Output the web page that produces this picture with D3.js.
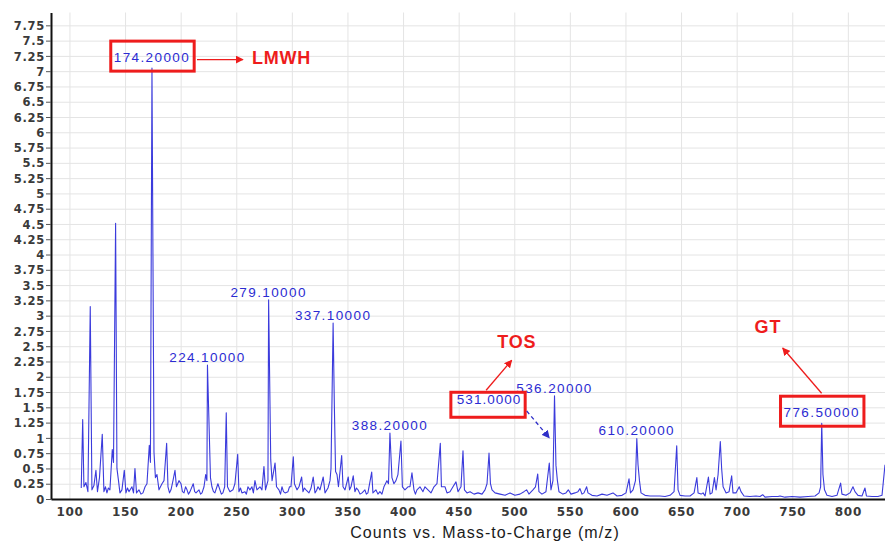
<!DOCTYPE html>
<html lang="en">
<head>
<meta charset="utf-8">
<style>
  body { margin: 0; background: #fff; }
  svg text { font-family: "Liberation Sans", Arial, sans-serif; }
  .tick text { font-family: "DejaVu Sans", sans-serif; font-weight: bold; font-size: 11.5px; fill: #3a3a3a; letter-spacing: 0.7px; }
</style>
</head>
<body>
<div id="chart"></div>
<script src="https://cdnjs.cloudflare.com/ajax/libs/d3/7.8.5/d3.min.js"></script>
<script>
var WIDTH = 885, HEIGHT = 545;

// spectrum: [m/z, counts]
var spectrum = [
  [110.6,0.18],[111.9,1.30],[113.0,0.2],[114.8,0.27],[116.6,0.12],[118.7,3.15],[120.2,0.15],[122.0,0.22],[123.8,0.47],[125.2,0.12],
  [127.0,0.35],[129.5,1.06],[131.0,0.12],[132.4,0.2],[133.7,0.1],[135.0,0.18],[136.4,0.15],[138.5,0.81],[139.6,0.6],[141.5,4.51],[142.7,0.5],[144.1,0.3],
  [145.4,0.1],[147.2,0.15],[149.3,0.47],[150.8,0.1],[152.2,0.18],[153.5,0.12],[156.2,0.2],[157.6,0.1],[158.9,0.5],[160.3,0.1],[162.5,0.15],[164.3,0.08],[166.1,0.1],[168.0,0.2],
  [169.7,0.25],[171.8,0.88],[172.8,0.6],[174.2,7.05],[176.0,0.77],[177.3,0.35],[178.7,0.4],[180.5,0.15],[183.2,0.25],[185.0,0.3],
  [187.4,0.91],[188.6,0.2],[190.0,0.1],[191.3,0.15],[193.1,0.3],[194.9,0.47],[196.2,0.2],[198.5,0.3],[200.3,0.25],[201.6,0.12],[203.0,0.1],[204.4,0.2],[205.7,0.15],
  [207.0,0.08],[208.4,0.12],[211.3,0.25],[212.6,0.12],[213.8,0.1],[216.5,0.15],[217.9,0.08],[219.2,0.1],[221.0,0.2],[222.5,0.4],[223.6,0.3],[224.1,2.19],[225.7,1.1],[226.8,0.35],
  [228.1,0.2],[229.5,0.12],[230.8,0.1],[233.5,0.25],[235.3,0.15],[236.6,0.08],[238.0,0.1],[239.6,0.2],[241.0,1.41],[242.1,0.2],[244.3,0.12],[247.0,0.15],[248.8,0.25],
  [251.3,0.73],[252.4,0.12],[253.8,0.18],[255.1,0.1],[257.8,0.12],[259.1,0.08],[260.5,0.2],[262.3,0.15],[264.1,0.2],[265.4,0.1],[266.8,0.3],[268.6,0.15],[271.3,0.2],
  [273.1,0.15],[274.9,0.53],[276.3,0.15],[278.5,0.3],[279.1,3.26],[281.0,0.64],[282.2,0.3],[284.9,0.59],[286.2,0.2],[288.4,0.15],
  [289.8,0.08],[291.1,0.2],[292.5,0.12],[293.9,0.1],[296.5,0.12],[297.9,0.2],[299.2,0.2],[301.3,0.69],[302.3,0.25],[304.6,0.15],[306.4,0.2],[308.8,0.36],[310.0,0.12],
  [311.3,0.18],[312.7,0.15],[315.4,0.1],[317.3,0.18],[319.2,0.36],[320.8,0.1],[322.2,0.14],[323.5,0.2],[325.3,0.15],[328.2,0.36],[329.8,0.1],[332.5,0.18],[334.3,0.3],
  [335.2,0.5],[337.1,2.88],[338.2,1.54],[339.3,0.45],[340.6,0.4],[341.9,0.2],[344.8,0.71],[346.0,0.2],[347.8,0.15],[350.7,0.36],
  [351.9,0.15],[353.2,0.2],[355.2,0.38],[356.7,0.12],[358.1,0.18],[359.5,0.15],[361.3,0.08],[363.1,0.1],[365.7,0.15],[367.0,0.08],[368.4,0.1],[371.8,0.44],[372.9,0.1],
  [375.6,0.15],[377.4,0.08],[379.2,0.12],[381.0,0.08],[382.8,0.2],[385.5,0.3],[386.9,0.25],[388.2,1.08],[390.0,0.35],[391.8,0.25],[393.6,0.3],[395.4,0.4],
  [398.1,0.95],[399.4,0.2],[401.7,0.15],[404.4,0.2],[406.2,0.2],[408.0,0.43],[409.8,0.15],[411.1,0.08],[412.5,0.15],[415.2,0.2],[417.9,0.12],
  [419.7,0.2],[422.4,0.15],[425.1,0.1],[427.8,0.2],[430.5,0.25],[433.5,0.91],[434.5,0.2],[437.7,0.2],[439.5,0.1],[442.2,0.12],
  [444.9,0.2],[447.6,0.28],[449.4,0.12],[452.1,0.2],[453.9,0.79],[455.2,0.15],[457.5,0.1],[460.2,0.12],[463.8,0.08],[467.4,0.1],
  [471.0,0.08],[473.7,0.15],[475.5,0.25],[477.3,0.75],[478.6,0.25],[480.0,0.15],[482.7,0.1],[487.2,0.08],[491.7,0.06],[496.2,0.1],
  [500.6,0.06],[505.1,0.08],[508.7,0.12],[511.1,0.15],[513.2,0.08],[516.8,0.15],[519.1,0.2],[521.1,0.41],[522.2,0.12],[524.9,0.08],
  [528.5,0.12],[531.5,0.59],[533.0,0.15],[534.8,0.3],[536.2,1.69],[537.5,0.55],[538.8,0.3],[540.2,0.12],[543.8,0.08],[546.5,0.1],
  [548.6,0.15],[551.0,0.08],[554.6,0.1],[557.3,0.12],[559.1,0.17],[560.9,0.08],[562.7,0.1],[565.1,0.2],[566.3,0.1],[569.9,0.06],
  [574.4,0.05],[578.9,0.08],[583.4,0.06],[588.8,0.1],[592.4,0.05],[596.9,0.06],[600.5,0.1],[603.2,0.33],[604.5,0.1],[606.8,0.15],
  [609.0,0.3],[610.2,0.99],[611.3,0.56],[612.6,0.3],[614.0,0.1],[617.6,0.06],[622.1,0.05],[627.5,0.05],[631.1,0.05],[635.6,0.04],
  [640.1,0.06],[643.7,0.12],[646.1,0.87],[647.3,0.15],[649.1,0.06],[653.6,0.05],[658.1,0.05],[661.7,0.1],[664.2,0.35],[665.3,0.1],
  [668.0,0.08],[669.8,0.1],[671.6,0.05],[674.6,0.36],[676.1,0.08],[677.9,0.1],[680.0,0.35],[681.5,0.15],[683.3,0.4],[685.3,0.94],
  [686.5,0.5],[687.8,0.2],[690.5,0.1],[693.2,0.12],[695.5,0.38],[696.7,0.1],[699.4,0.1],[702.3,0.2],[703.9,0.12],[706.6,0.05],
  [712.0,0.04],[717.4,0.05],[721.0,0.04],[723.4,0.07],[725.5,0.03],[731.8,0.04],[737.2,0.04],[739.0,0.05],[743.5,0.03],[749.8,0.04],
  [757.0,0.03],[764.2,0.04],[770.5,0.05],[774.1,0.1],[775.5,0.2],[776.5,1.24],[777.6,0.4],[779.0,0.15],[781.2,0.06],[785.7,0.04],
  [790.2,0.06],[793.5,0.26],[794.7,0.08],[798.3,0.06],[801.9,0.1],[804.6,0.2],[806.4,0.12],[809.1,0.06],[812.7,0.05],[815.4,0.18],
  [816.7,0.05],[821.7,0.04],[827.1,0.04],[830.7,0.06],[833.4,0.56]
];

// labelled peaks
var labelMz   = [174.2, 224.1, 279.1, 337.1, 388.2, 536.2, 610.2, 776.5];
var labelText = ["174.20000", "224.10000", "279.10000", "337.10000", "388.20000", "536.20000", "610.20000", "776.50000"];
var boxedMz   = [174.2, 776.5];

var xTicks = [100, 150, 200, 250, 300, 350, 400, 450, 500, 550, 600, 650, 700, 750, 800];
var yTicks = [0, 0.25, 0.5, 0.75, 1, 1.25, 1.5, 1.75, 2, 2.25, 2.5, 2.75, 3, 3.25, 3.5, 3.75, 4,
              4.25, 4.5, 4.75, 5, 5.25, 5.5, 5.75, 6, 6.25, 6.5, 6.75, 7, 7.25, 7.5, 7.75];

var margin = {top: 12.5, right: 0, bottom: 46, left: 51};
var innerW = WIDTH - margin.left - margin.right;
var innerH = HEIGHT - margin.top - margin.bottom;

var x = d3.scaleLinear().domain([83.4, 833.4]).range([0, innerW]);
var y = d3.scaleLinear().domain([0, 7.96]).range([innerH, 0]);

var svg = d3.select("#chart").append("svg").attr("width", WIDTH).attr("height", HEIGHT);

var defs = svg.append("defs");
defs.append("clipPath").attr("id", "plotclip").append("rect")
  .attr("width", innerW).attr("height", innerH + 1);
function marker(id, color) {
  defs.append("marker").attr("id", id)
    .attr("viewBox", "0 0 10 10").attr("refX", 9).attr("refY", 5)
    .attr("markerWidth", 8).attr("markerHeight", 8).attr("markerUnits", "userSpaceOnUse")
    .attr("orient", "auto")
    .append("path").attr("d", "M0,0L10,5L0,10z").attr("fill", color);
}
marker("arrRed", "#ee1c1c");
marker("arrBlue", "#2f2fc8");

var g = svg.append("g").attr("transform", "translate(" + margin.left + "," + margin.top + ")");

// grid
g.append("g").attr("class", "grid")
  .call(d3.axisLeft(y).tickValues(yTicks.slice(1)).tickSize(-innerW).tickFormat(""))
  .call(s => s.select(".domain").remove())
  .selectAll("line").attr("stroke", "#e4e4e4");
g.append("g").attr("class", "grid")
  .attr("transform", "translate(0," + innerH + ")")
  .call(d3.axisBottom(x).tickValues(xTicks).tickSize(-innerH).tickFormat(""))
  .call(s => s.select(".domain").remove())
  .selectAll("line").attr("stroke", "#e4e4e4");

// spectrum line
var line = d3.line().x(d => x(d[0])).y(d => y(d[1]));
g.append("path").datum(spectrum)
  .attr("clip-path", "url(#plotclip)")
  .attr("d", line)
  .attr("fill", "none")
  .attr("stroke", "#3b3bdc")
  .attr("stroke-width", 1.1)
  .attr("stroke-linejoin", "round");

// axes
var yAxis = g.append("g")
  .call(d3.axisLeft(y).tickValues(yTicks).tickSize(5).tickSizeOuter(0).tickFormat(d => String(d)));
yAxis.select(".domain").attr("stroke", "#111").attr("stroke-width", 2);
yAxis.selectAll(".tick line").attr("stroke", "#555");
yAxis.selectAll(".tick text").attr("x", -6).attr("dy", "0.36em");

var xAxis = g.append("g").attr("transform", "translate(0," + innerH + ")")
  .call(d3.axisBottom(x).tickValues(xTicks).tickSize(0).tickSizeOuter(0).tickPadding(8).tickFormat(d => String(d)));
xAxis.select(".domain").attr("stroke", "#111").attr("stroke-width", 2);
xAxis.selectAll(".tick text").style("font-size", "12px");

svg.append("text")
  .attr("x", 485).attr("y", 538)
  .attr("text-anchor", "middle")
  .attr("font-size", 16)
  .attr("letter-spacing", 1.1)
  .attr("fill", "#1a1a1a")
  .text("Counts vs. Mass-to-Charge (m/z)");

// peak labels
function peakHeight(mz) {
  return spectrum.find(d => d[0] === mz)[1];
}
labelMz.forEach(function(mz, i) {
  var boxed = boxedMz.indexOf(mz) >= 0;
  var t = g.append("text")
    .attr("x", x(mz)).attr("y", y(peakHeight(mz)) - (boxed ? 6 : 3))
    .attr("text-anchor", "middle")
    .attr("font-size", 13.5)
    .attr("letter-spacing", 1.4)
    .attr("fill", "#2b2bd2")
    .text(labelText[i]);
  if (boxed) {
    var b = t.node().getBBox();
    g.append("rect")
      .attr("x", b.x - 3).attr("y", b.y - 9)
      .attr("width", b.width + 7).attr("height", 30)
      .attr("fill", "none").attr("stroke", "#ee1c1c").attr("stroke-width", 3);
  }
});

// 531 label box
var t531 = g.append("text")
  .attr("x", x(477.3)).attr("y", y(1.55))
  .attr("text-anchor", "middle")
  .attr("font-size", 13.5).attr("letter-spacing", 1.0)
  .attr("fill", "#2b2bd2")
  .text("531.0000");
var b531 = t531.node().getBBox();
g.append("rect")
  .attr("x", b531.x - 6).attr("y", b531.y)
  .attr("width", b531.width + 10).attr("height", 25)
  .attr("fill", "none").attr("stroke", "#ee1c1c").attr("stroke-width", 3);

// annotation arrows, ends given in data units
var arrows = [
  {from: [214.7, 7.19], to: [256.0, 7.19], color: "arrRed"},
  {from: [474.7, 1.78], to: [497.7, 2.27], color: "arrRed"},
  {from: [776.4, 1.73], to: [741.4, 2.47], color: "arrRed"},
  {from: [511.2, 1.44], to: [531.5, 1.0], color: "arrBlue", dash: true}
];
arrows.forEach(function(a) {
  g.append("line")
    .attr("x1", x(a.from[0])).attr("y1", y(a.from[1]))
    .attr("x2", x(a.to[0])).attr("y2", y(a.to[1]))
    .attr("stroke", a.color === "arrRed" ? "#ee1c1c" : "#2f2fc8")
    .attr("stroke-width", 1.3)
    .attr("stroke-dasharray", a.dash ? "4,3" : null)
    .attr("marker-end", "url(#" + a.color + ")");
});

var notes = [
  {text: "LMWH", mz: 264.1, v: 7.11, anchor: "start"},
  {text: "TOS", mz: 502.3, v: 2.47, anchor: "middle"},
  {text: "GT", mz: 728.1, v: 2.71, anchor: "middle"}
];
notes.forEach(function(n) {
  g.append("text")
    .attr("x", x(n.mz)).attr("y", y(n.v))
    .attr("text-anchor", n.anchor)
    .attr("font-size", 18).attr("font-weight", "bold")
    .attr("letter-spacing", 0.8)
    .attr("fill", "#ee1c1c")
    .text(n.text);
});
</script>
</body>
</html>
